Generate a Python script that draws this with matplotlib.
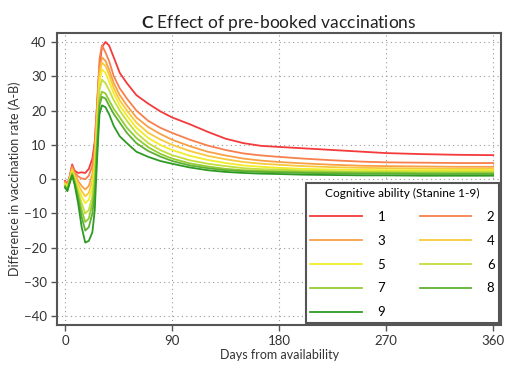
import matplotlib
matplotlib.use("Agg")
import matplotlib.pyplot as plt

plt.rcParams["font.family"] = ["Lato", "DejaVu Sans"]
plt.rcParams["mathtext.fontset"] = "custom"
plt.rcParams["mathtext.bf"] = "Lato:bold"
plt.rcParams["mathtext.rm"] = "Lato"

# days from availability
days = [0, 2, 4, 6, 8, 11, 14, 17, 20, 23, 25, 27, 29, 31, 34, 37, 41, 46, 52, 60,
        70, 80, 90, 105, 120, 135, 150, 165, 180, 200, 225, 250, 270, 300, 330, 360]

# difference in vaccination rate (A-B) per stanine
s1 = [-0.5, -1.5, 1.0, 4.3, 2.5, 1.8, 2.0, 1.8, 3.0, 6.0, 11.0, 22.0, 33.0, 38.5, 40.0, 39.0, 35.5, 31.0, 28.0, 24.5,
      22.0, 19.8, 18.0, 16.0, 13.8, 11.8, 10.5, 9.7, 9.4, 9.0, 8.5, 8.0, 7.6, 7.3, 7.1, 7.0]
s2 = [-0.8, -1.8, 0.8, 3.8, 2.0, 0.8, 0.2, 0.0, 1.0, 4.0, 9.5, 22.0, 35.0, 39.0, 37.0, 34.5, 30.0, 26.5, 23.5, 20.0,
      17.0, 15.0, 13.5, 11.5, 9.8, 8.5, 7.5, 6.9, 6.5, 6.0, 5.5, 5.1, 4.9, 4.8, 4.7, 4.7]
s3 = [-1.0, -2.0, 0.5, 3.2, 1.5, -0.5, -2.0, -3.0, -2.0, 1.5, 7.0, 20.0, 32.0, 35.5, 34.5, 32.0, 28.0, 24.5, 21.5, 18.0,
      15.2, 13.2, 11.5, 9.6, 8.0, 6.9, 6.0, 5.4, 5.0, 4.6, 4.2, 3.9, 3.8, 3.7, 3.6, 3.6]
s4 = [-1.2, -2.2, 0.2, 2.8, 1.0, -1.5, -3.5, -5.0, -4.0, -0.5, 5.5, 18.0, 30.5, 34.0, 33.0, 30.5, 26.5, 23.0, 20.0, 16.5,
      13.5, 11.6, 10.0, 8.2, 6.8, 5.8, 5.0, 4.5, 4.2, 3.8, 3.5, 3.3, 3.2, 3.1, 3.0, 3.0]
s5 = [-1.5, -2.5, 0.0, 2.4, 0.5, -2.5, -5.0, -7.0, -6.0, -2.5, 3.5, 16.0, 28.5, 32.0, 31.0, 28.5, 25.0, 21.5, 18.5, 15.0,
      12.0, 10.0, 8.5, 6.8, 5.6, 4.7, 4.0, 3.6, 3.3, 3.0, 2.8, 2.7, 2.6, 2.6, 2.6, 2.6]
s6 = [-1.8, -2.8, -0.3, 2.0, 0.0, -3.5, -7.0, -10.0, -9.0, -5.0, 1.5, 14.0, 26.0, 29.0, 28.0, 26.0, 23.0, 20.0, 17.0, 13.5,
      10.5, 8.5, 7.0, 5.5, 4.5, 3.8, 3.2, 2.9, 2.8, 2.5, 2.3, 2.2, 2.2, 2.2, 2.2, 2.2]
s7 = [-2.0, -3.0, -0.5, 1.6, -0.5, -4.5, -9.0, -12.5, -11.5, -7.0, -1.0, 11.0, 23.0, 25.5, 25.0, 23.0, 20.5, 18.0, 15.0, 12.0,
      9.3, 7.4, 6.0, 4.6, 3.7, 3.0, 2.6, 2.4, 2.3, 2.1, 2.0, 1.9, 1.9, 1.8, 1.8, 1.8]
s8 = [-2.2, -3.2, -0.8, 1.3, -1.0, -5.5, -11.0, -15.0, -14.0, -10.0, -4.0, 9.0, 21.5, 24.0, 23.5, 21.5, 19.0, 16.5, 13.5, 10.5,
      8.2, 6.6, 5.3, 4.0, 3.2, 2.6, 2.3, 2.1, 2.0, 1.8, 1.7, 1.6, 1.6, 1.5, 1.5, 1.5]
s9 = [-2.5, -3.5, -1.0, 1.0, -1.5, -7.0, -14.0, -18.5, -18.0, -15.5, -9.0, 6.0, 19.0, 21.5, 21.0, 19.0, 15.5, 12.5, 10.5, 8.0,
      6.5, 5.3, 4.5, 3.4, 2.6, 2.1, 1.8, 1.6, 1.5, 1.3, 1.2, 1.1, 1.1, 1.0, 1.0, 1.0]

series = [s1, s2, s3, s4, s5, s6, s7, s8, s9]
labels = ["1", "2", "3", "4", "5", "6", "7", "8", "9"]
colors = ["#f43a3a", "#f7804e", "#f8a046", "#f8c93c", "#f2ec2a",
          "#c4de3c", "#92cc34", "#5eb032", "#2e9a24"]

fig = plt.figure(figsize=(5.14, 3.80), dpi=100)
ax = fig.add_axes([0.111, 0.145, 0.864, 0.768])

lines = []
for ys, lab, c in zip(series, labels, colors):
    ln, = ax.plot(days, ys, color=c, lw=1.3, label=lab)
    lines.append(ln)

ax.set_xlim(-6.7, 366.7)
ax.set_ylim(-42.5, 42.6)
ax.set_xticks([0, 90, 180, 270, 360])
ax.set_yticks(range(-40, 41, 10))
ax.grid(True, linestyle=(0, (1, 3)), color="#999999", lw=0.8)
ax.tick_params(direction="out", length=4, width=1, color="#555555", labelsize=9.5, labelcolor="#333333")
for sp in ax.spines.values():
    sp.set_color("#555555")
    sp.set_linewidth(1.5)

ax.set_xlabel("Days from availability", fontsize=9, color="#333333", labelpad=1)
ax.set_ylabel("Difference in vaccination rate (A-B)", fontsize=9, color="#333333", labelpad=2)
ax.set_title(r"$\bf{C}$ Effect of pre-booked vaccinations", fontsize=12.5, color="#222222", pad=4)

# row-wise legend order: 1 2 / 3 4 / ...
order = [0, 2, 4, 6, 8, 1, 3, 5, 7]
leg = ax.legend([lines[i] for i in order], [labels[i] for i in order], ncol=2, loc="lower right",
                title="Cognitive ability (Stanine 1-9)", fontsize=9.5, title_fontsize=8.6,
                handlelength=3.9, handletextpad=1.2, columnspacing=2.6, labelspacing=0.9,
                borderaxespad=0.15, borderpad=0.35, fancybox=False, framealpha=1, edgecolor="#555555")
leg.get_frame().set_linewidth(1.5)

fig.savefig("out.png", dpi=100)
